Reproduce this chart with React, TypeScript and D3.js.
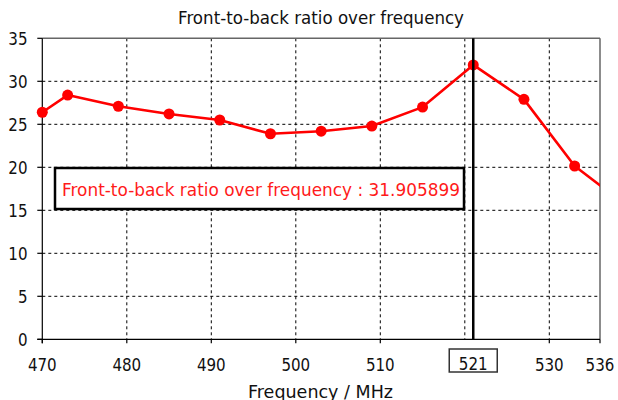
import React from "react";
import * as d3 from "d3";

const frequencies = [470, 473, 479, 485, 491, 497, 503, 509, 515, 521, 527, 533, 539];
const ratios = [26.4, 28.4, 27.1, 26.2, 25.5, 23.9, 24.2, 24.8, 27.0, 31.905899, 27.9, 20.15, 15.65];
const xTicks = [470, 480, 490, 500, 510, 530, 536];
const xGrid = [480, 490, 500, 510, 520, 530];
const yTicks = [0, 5, 10, 15, 20, 25, 30, 35];
const yGrid = [5, 10, 15, 20, 25, 30];
const cursorFreq = 521;
const cursorValue = 31.905899;
const title = "Front-to-back ratio over frequency";
const xLabel = "Frequency / MHz";

const W = 618;
const H = 400;
const L = 42.3;
const R = 600;
const T = 38.3;
const B = 339.3;
const FONT = "'DejaVu Sans', Verdana, sans-serif";

export default function App() {
  const x = d3.scaleLinear().domain([470, 536]).range([L, R]);
  const y = d3.scaleLinear().domain([0, 35]).range([B, T]);
  const pts = frequencies.map((f, i) => [f, ratios[i]] as [number, number]);
  const line = d3
    .line<[number, number]>()
    .x((d) => x(d[0]))
    .y((d) => y(d[1]))(pts) as string;
  const cx = x(cursorFreq);
  const annText = `${title} : ${cursorValue.toFixed(6)}`;

  return (
    <svg
      width={W}
      height={H}
      style={{ position: "absolute", left: 0, top: 0, background: "#fff" }}
      fontFamily={FONT}
    >
      <defs>
        <clipPath id="plotClip">
          <rect x={L} y={T} width={R - L} height={B - T} />
        </clipPath>
      </defs>
      <rect x={0} y={0} width={W} height={H} fill="#fff" />
      {yGrid.map((v) => (
        <line
          key={"hy" + v}
          x1={L}
          x2={R}
          y1={y(v)}
          y2={y(v)}
          stroke="#000"
          strokeWidth={1}
          strokeDasharray="3,3"
        />
      ))}
      {xGrid.map((v) => (
        <line
          key={"vx" + v}
          x1={x(v)}
          x2={x(v)}
          y1={T}
          y2={B}
          stroke="#000"
          strokeWidth={1}
          strokeDasharray="3,3"
        />
      ))}
      <line x1={L} x2={R} y1={T} y2={T} stroke="#666" strokeWidth={1.5} />
      <line x1={R} x2={R} y1={T} y2={B} stroke="#666" strokeWidth={1.5} />
      <line x1={L} x2={L} y1={T} y2={B + 4} stroke="#000" strokeWidth={1.2} />
      <line x1={L - 5} x2={R} y1={B} y2={B} stroke="#000" strokeWidth={1.2} />
      {yTicks.map((v) => (
        <g key={"yt" + v}>
          <line x1={L - 5} x2={L} y1={y(v)} y2={y(v)} stroke="#000" strokeWidth={1.2} />
          <text
            x={27.5}
            y={y(v) + 6.5}
            textAnchor="end"
            fontSize={17.5}
            fill="#111"
            textLength={String(v).length * 9.6}
            lengthAdjust="spacingAndGlyphs"
          >
            {v}
          </text>
        </g>
      ))}
      {xTicks.map((v) => (
        <g key={"xt" + v}>
          <line x1={x(v)} x2={x(v)} y1={B} y2={B + 4} stroke="#000" strokeWidth={1.2} />
          <text
            x={x(v)}
            y={370.5}
            textAnchor="middle"
            fontSize={17.5}
            fill="#111"
            textLength={String(v).length * 9.6}
            lengthAdjust="spacingAndGlyphs"
          >
            {v}
          </text>
        </g>
      ))}
      <path
        d={line}
        fill="none"
        stroke="#ff0000"
        strokeWidth={2.6}
        strokeLinejoin="round"
        clipPath="url(#plotClip)"
      />
      {pts.map((d, i) => (
        <circle key={"pt" + i} cx={x(d[0])} cy={y(d[1])} r={5.5} fill="#ff0000" />
      ))}
      <line x1={cx} x2={cx} y1={T} y2={B} stroke="#000" strokeWidth={2.5} />
      <rect x={cx - 24} y={349} width={48} height={23} fill="#fff" stroke="#333" strokeWidth={1.5} />
      <text
        x={cx}
        y={369.5}
        textAnchor="middle"
        fontSize={17.5}
        fill="#111"
        textLength={28.8}
        lengthAdjust="spacingAndGlyphs"
      >
        {cursorFreq}
      </text>
      <rect x={55} y={168} width={409} height={41} fill="#fff" stroke="#000" strokeWidth={2.5} />
      <text
        x={62}
        y={195.5}
        fontSize={18.5}
        fill="#ff1a1a"
        textLength={398}
        lengthAdjust="spacingAndGlyphs"
      >
        {annText}
      </text>
      <text
        x={321}
        y={24}
        textAnchor="middle"
        fontSize={17}
        fill="#111"
        textLength={286}
        lengthAdjust="spacingAndGlyphs"
      >
        {title}
      </text>
      <text
        x={320.5}
        y={397.5}
        textAnchor="middle"
        fontSize={17}
        fill="#111"
        textLength={145}
        lengthAdjust="spacingAndGlyphs"
      >
        {xLabel}
      </text>
    </svg>
  );
}
